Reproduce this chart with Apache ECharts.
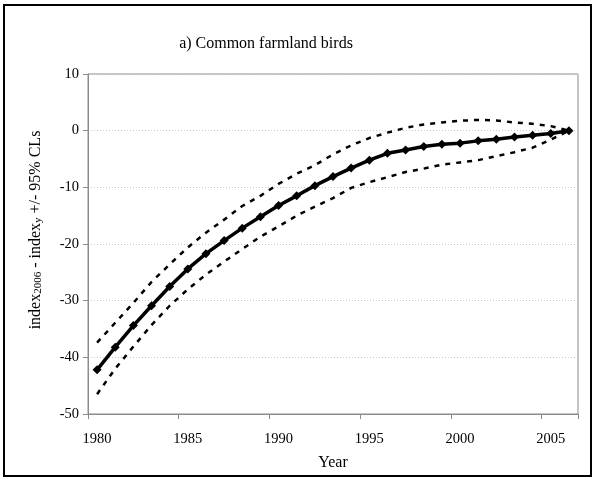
<!DOCTYPE html>
<html>
<head>
<meta charset="utf-8">
<script src="https://cdn.jsdelivr.net/npm/echarts@6/dist/echarts.min.js"></script>
<style>
html,body{margin:0;padding:0;background:#fff;}
#chart{width:595px;height:479px;}
</style>
</head>
<body>
<div id="chart"></div>
<script>
var years = ['1980','1981','1982','1983','1984','1985','1986','1987','1988','1989','1990','1991','1992','1993','1994','1995','1996','1997','1998','1999','2000','2001','2002','2003','2004','2005','2006'];
var indexDiff = [-42.2,-38.2,-34.4,-30.9,-27.5,-24.4,-21.7,-19.4,-17.2,-15.2,-13.2,-11.5,-9.7,-8.1,-6.6,-5.2,-4.0,-3.4,-2.8,-2.4,-2.2,-1.8,-1.5,-1.1,-0.8,-0.5,0];
var upperCL = [-37.4,-33.9,-30.4,-26.7,-23.6,-20.6,-18.0,-15.7,-13.3,-11.5,-9.4,-7.6,-6.1,-4.2,-2.6,-1.3,-0.35,0.5,1.1,1.45,1.75,1.9,1.8,1.45,1.2,0.8,0];
var lowerCL = [-46.5,-42.0,-38.1,-34.3,-30.9,-28.0,-25.4,-23.1,-20.9,-18.7,-16.9,-15.0,-13.4,-11.9,-10.1,-9.1,-8.2,-7.3,-6.7,-6.0,-5.6,-5.2,-4.5,-3.8,-3.0,-1.6,0];
var titleText = 'a) Common farmland birds';
var xName = 'Year';

var chart = echarts.init(document.getElementById('chart'), null, {renderer:'canvas'});
var serif = '"Liberation Serif", "Times New Roman", serif';
var option = {
  backgroundColor: '#fff',
  animation: false,
  title: {
    text: titleText,
    left: 261,
    top: 31,
    textAlign: 'center',
    textStyle: {fontFamily: serif, fontSize: 16, fontWeight: 'normal', color: '#000'}
  },
  graphic: [{
    type: 'rect',
    shape: {x: 4, y: 5, width: 587, height: 471},
    style: {fill: null, stroke: '#000', lineWidth: 2},
    silent: true
  }],
  grid: {left: 88, right: 17, top: 74, bottom: 65, show: true, borderColor: '#8c8c8c', borderWidth: 1, backgroundColor: 'transparent'},
  xAxis: {
    type: 'category',
    data: years,
    boundaryGap: true,
    name: xName,
    nameLocation: 'middle',
    nameGap: 41,
    nameTextStyle: {fontFamily: serif, fontSize: 16, color: '#000'},
    axisLine: {onZero: false, lineStyle: {color: '#8c8c8c', width: 1}},
    axisTick: {show: true, interval: 4, length: 5, inside: false, lineStyle: {color: '#8c8c8c'}},
    axisLabel: {interval: 4, margin: 18, fontFamily: serif, fontSize: 14.5, color: '#000'},
    splitLine: {show: false}
  },
  yAxis: {
    type: 'value',
    min: -50, max: 10, interval: 10,
    name: '{t|index}{s|2006}{t| - index}{s|y}{t| +/- 95% CLs}',
    nameLocation: 'middle',
    nameGap: 44,
    nameRotate: 90,
    nameTextStyle: {
      fontFamily: serif, fontSize: 16, color: '#000',
      padding: [0, 0, 0, 28],
      rich: {
        t: {fontFamily: serif, fontSize: 16, color: '#000'},
        s: {fontFamily: serif, fontSize: 11, color: '#000', verticalAlign: 'bottom', lineHeight: 12}
      }
    },
    axisLine: {show: true, onZero: false, lineStyle: {color: '#8c8c8c', width: 1}},
    axisTick: {show: true, length: 5, lineStyle: {color: '#8c8c8c'}},
    axisLabel: {margin: 9, fontFamily: serif, fontSize: 14.5, color: '#000'},
    splitLine: {show: true, lineStyle: {color: '#c8c8c8', type: [1, 2], width: 1}}
  },
  series: [
    {name: 'upper', type: 'line', data: upperCL, symbol: 'none', lineStyle: {color: '#000', width: 2.5, type: [5, 6]}, z: 2},
    {name: 'lower', type: 'line', data: lowerCL, symbol: 'none', lineStyle: {color: '#000', width: 2.5, type: [5, 6]}, z: 2},
    {name: 'index', type: 'line', data: indexDiff, symbol: 'diamond', symbolSize: 9, itemStyle: {color: '#000'}, lineStyle: {color: '#000', width: 3.5}, z: 3}
  ]
};
chart.setOption(option);
</script>
</body>
</html>
